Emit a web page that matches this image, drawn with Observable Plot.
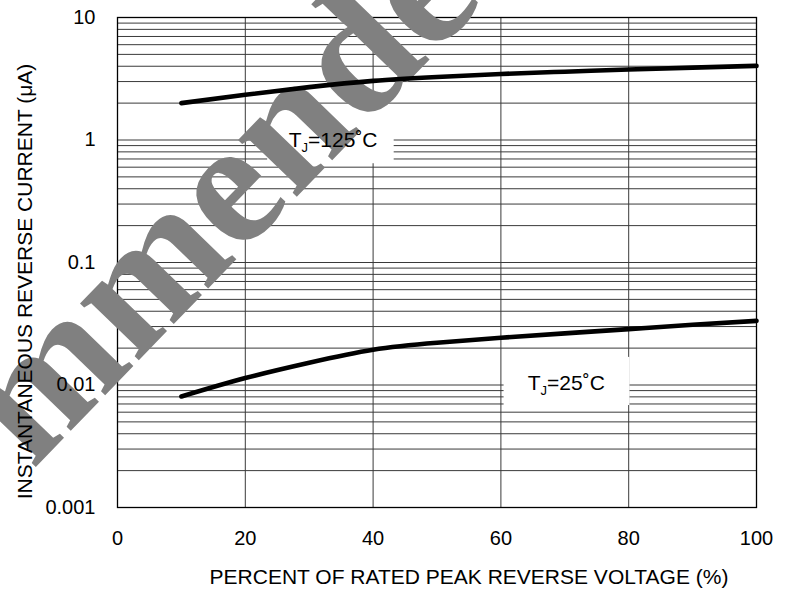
<!DOCTYPE html>
<html><head><meta charset="utf-8">
<script src="https://cdn.jsdelivr.net/npm/d3@7"></script>
<script src="https://cdn.jsdelivr.net/npm/@observablehq/plot@0.6"></script>
<style>body{margin:0;background:#fff;} #chart svg{overflow:hidden;}</style>
</head><body><div id="chart"></div>
<script>
// Data
const percent = [10, 20, 30, 40, 50, 60, 70, 80, 90, 100];
const current125 = [2.0, 2.34, 2.7, 3.04, 3.27, 3.46, 3.61, 3.76, 3.9, 4.03];
const current25 = [0.00806, 0.0114, 0.0152, 0.0194, 0.0221, 0.0243, 0.0264, 0.0286, 0.031, 0.0334];

const xTicks = [0, 20, 40, 60, 80, 100];
const xGridLines = [20, 40, 60, 80];
const yTicks = [0.001, 0.01, 0.1, 1, 10];
const yTickLabels = ["0.001", "0.01", "0.1", "1", "10"];
const decades = [0.001, 0.01, 0.1, 1];
const minorMultipliers = [1, 2, 3, 4, 5, 6, 7, 8, 9];

const labelText = ["TJ=125\u02DAC", "TJ=25\u02DAC"];
const labelX = [26.8, 64.2];
const labelY = [1, 0.0104];
const boxX1 = [23.5, 60.5];
const boxX2 = [43.3, 80.2];
const boxY1 = [1.95, 0.0168];
const boxY2 = [0.64, 0.0068];

const watermarkHead = ["Not Reco"];
const watermarkTail = ["mmended"];
const xTitle = "PERCENT OF RATED PEAK REVERSE VOLTAGE (%)";
const yTitle = "INSTANTANEOUS REVERSE CURRENT (\u03BCA)";

// Build tables
const yGrid = decades.flatMap(d => minorMultipliers.map(m => d * m)).concat([10]);
const series = [
  ...percent.map((p, i) => ({x: p, y: current125[i], s: "125"})),
  ...percent.map((p, i) => ({x: p, y: current25[i], s: "25"}))
];
const labels = labelText.map((t, i) => ({t, x: labelX[i], y: labelY[i]}));
const boxes = boxX1.map((v, i) => ({x1: v, x2: boxX2[i], y1: boxY1[i], y2: boxY2[i]}));

const wmStyle = {
  text: d => d, frameAnchor: "top-left", rotate: -46,
  lineAnchor: "bottom", fontSize: 178,
  fontFamily: "'Liberation Serif', 'Times New Roman', serif", fontWeight: "bold", fill: "#808080"
};

const chart = Plot.plot({
  width: 790,
  height: 590,
  marginLeft: 117,
  marginRight: 34,
  marginTop: 17,
  marginBottom: 83,
  style: {fontFamily: "'Liberation Sans', Arial, sans-serif", fontSize: "20px", background: "#fff", color: "#000"},
  x: {domain: [0, 100], axis: null},
  y: {type: "log", domain: [0.001, 10], axis: null},
  marks: [
    Plot.ruleY(yGrid, {stroke: "#3a3a3a", strokeWidth: 1}),
    Plot.ruleX(xGridLines, {stroke: "#3a3a3a", strokeWidth: 1}),
    Plot.frame({stroke: "#000", strokeWidth: 1.3}),
    Plot.rect(boxes, {x1: "x1", x2: "x2", y1: "y1", y2: "y2", fill: "#fff"}),
    Plot.text(watermarkHead, {...wmStyle, textAnchor: "end", dx: -106, dy: 475}),
    Plot.text(watermarkTail, {...wmStyle, textAnchor: "start", dx: -85, dy: 453}),
    Plot.line(series, {x: "x", y: "y", z: "s", curve: "natural", stroke: "#000", strokeWidth: 4.6, strokeLinecap: "round"}),
    Plot.text(labels, {x: "x", y: "y", text: "t", textAnchor: "start", fontSize: 21, fill: "#000"}),
    Plot.axisX(xTicks, {tickSize: 0, tickPadding: 23, fontSize: 20, label: null, tickFormat: d => String(d)}),
    Plot.axisY(yTicks, {tickSize: 0, tickPadding: 22, fontSize: 20, label: null, tickFormat: d => yTickLabels[yTicks.indexOf(d)]}),
    Plot.text([xTitle], {text: d => d, frameAnchor: "bottom", textAnchor: "middle", lineAnchor: "middle", dx: 32, dy: 70, fontSize: 21}),
    Plot.text([yTitle], {text: d => d, frameAnchor: "left", textAnchor: "middle", lineAnchor: "middle", rotate: -90, dx: -92, dy: 19, fontSize: 21})
  ]
});

// Subscript J in the temperature labels
const ns = "http://www.w3.org/2000/svg";
chart.querySelectorAll("text").forEach(t => {
  const s = t.textContent;
  if (s.startsWith("TJ=")) {
    t.textContent = "";
    t.appendChild(document.createTextNode("T"));
    const sub = document.createElementNS(ns, "tspan");
    sub.setAttribute("font-size", "13");
    sub.setAttribute("dy", "5");
    sub.textContent = "J";
    t.appendChild(sub);
    const rest = document.createElementNS(ns, "tspan");
    rest.setAttribute("dy", "-5");
    rest.textContent = s.slice(2);
    t.appendChild(rest);
  }
});

document.getElementById("chart").appendChild(chart);
</script>
</body></html>
